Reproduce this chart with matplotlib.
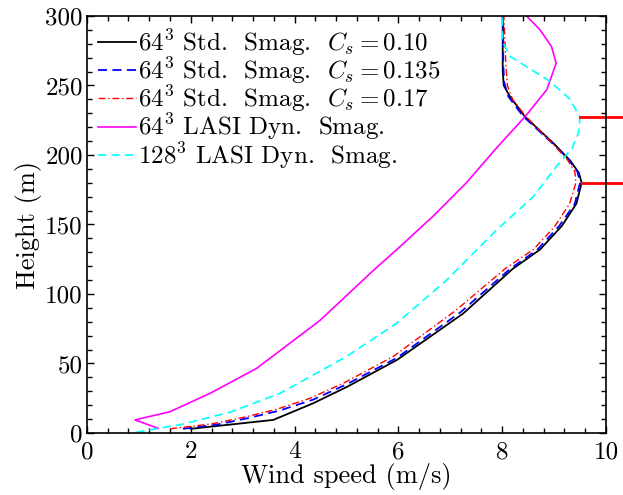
import matplotlib
matplotlib.use('Agg')
import matplotlib.pyplot as plt
from matplotlib.ticker import MultipleLocator

plt.rcParams['font.family'] = 'serif'
plt.rcParams['font.serif'] = ['cmr10', 'DejaVu Serif']
plt.rcParams['mathtext.fontset'] = 'cm'
plt.rcParams['axes.unicode_minus'] = False

# wind speed (m/s) vs height (m)
std010_u = [2.0, 3.59, 4.36, 5.0, 5.97, 7.25, 8.2, 8.73, 9.15, 9.43, 9.53, 9.48, 9.31, 9.0, 8.44, 8.15, 8.03, 8.01, 8.01]
std010_z = [3, 9.4, 21.4, 33, 52.5, 86, 118, 132, 149, 165, 180, 187, 196, 208, 227.5, 242, 250, 260, 300]

std0135_u = [1.85, 2.5, 3.08, 3.7, 4.36, 5.0, 5.97, 7.2, 8.15, 8.68, 9.1, 9.4, 9.5, 9.45, 9.27, 8.95, 8.4, 8.12, 8.04, 8.02, 8.02]
std0135_z = [3, 6, 10.5, 16, 24, 35, 54, 87, 118, 132, 149, 165, 180, 188, 197, 209, 228, 242, 252, 265, 300]

std017_u = [1.6, 2.4, 3.05, 3.65, 4.3, 4.95, 5.9, 7.1, 8.05, 8.6, 9.0, 9.3, 9.42, 9.4, 9.25, 8.95, 8.45, 8.2, 8.1, 8.07, 8.05, 8.03]
std017_z = [3, 6.5, 11.5, 17, 25, 36, 55, 88, 118, 132, 148, 165, 180, 188, 197, 209, 228, 240, 250, 265, 285, 300]

lasi64_u = [1.37, 0.925, 1.6, 2.37, 3.27, 4.49, 5.52, 6.03, 6.67, 7.31, 7.89, 8.44, 8.86, 9.04, 8.95, 8.73, 8.47]
lasi64_z = [3.4, 9.4, 15.3, 28.5, 46.5, 81, 117, 134, 156, 180, 205, 227.5, 247, 266, 278, 290, 300]

lasi128_u = [0.95, 1.4, 1.8, 2.76, 3.72, 5.0, 5.97, 6.93, 7.89, 8.6, 9.05, 9.35, 9.47, 9.5, 9.31, 8.92, 8.15, 8.0, 8.0]
lasi128_z = [0.5, 3.5, 6, 15, 28.5, 55, 79, 110, 146, 170, 192, 205, 216, 227, 240, 253, 271, 282, 300]

# heights marked with red bars on the right
mark_z = [227.5, 180]
mark_u0 = [9.5, 9.53]

fig = plt.figure(figsize=(6.23, 4.95), dpi=100)
ax = fig.add_axes([0.1396, 0.1253, 0.8331, 0.8424])

ax.plot(std010_u, std010_z, color='black', lw=1.3, label=r'64$^3$ Std.  Smag.  $C_s=0.10$')
ax.plot(std0135_u, std0135_z, color='blue', lw=1.3, ls=(0, (5, 3)), label=r'64$^3$ Std.  Smag.  $C_s=0.135$')
ax.plot(std017_u, std017_z, color='red', lw=1.0, ls=(0, (5, 2, 1, 2)), label=r'64$^3$ Std.  Smag.  $C_s=0.17$')
ax.plot(lasi64_u, lasi64_z, color='magenta', lw=1.2, label=r'64$^3$ LASI Dyn.  Smag.')
ax.plot(lasi128_u, lasi128_z, color='cyan', lw=1.2, ls=(0, (5, 3)), label=r'128$^3$ LASI Dyn.  Smag.')

for z, u0 in zip(mark_z, mark_u0):
    ax.plot([u0, 10.4], [z, z], color='red', lw=2.0, clip_on=False)

ax.set_xlim(0, 10)
ax.set_ylim(0, 300)
ax.xaxis.set_major_locator(MultipleLocator(2))
ax.xaxis.set_minor_locator(MultipleLocator(0.4))
ax.yaxis.set_major_locator(MultipleLocator(50))
ax.yaxis.set_minor_locator(MultipleLocator(10))
ax.tick_params(which='both', direction='in', top=True, right=True, labelsize=18, pad=3)
ax.tick_params(axis='x', which='both', pad=6)
ax.tick_params(which='major', length=5, width=1)
ax.tick_params(which='minor', length=3.5, width=1)
for s in ax.spines.values():
    s.set_linewidth(1.2)

ax.set_xlabel('Wind speed (m/s)', fontsize=19, labelpad=0)
ax.set_ylabel('Height (m)', fontsize=19, labelpad=2)

ax.legend(loc='upper left', frameon=False, fontsize=18, handlelength=1.5,
          handletextpad=0.1, labelspacing=-0.1, borderaxespad=0.1, borderpad=0.35)

fig.savefig('out.png', dpi=100)
